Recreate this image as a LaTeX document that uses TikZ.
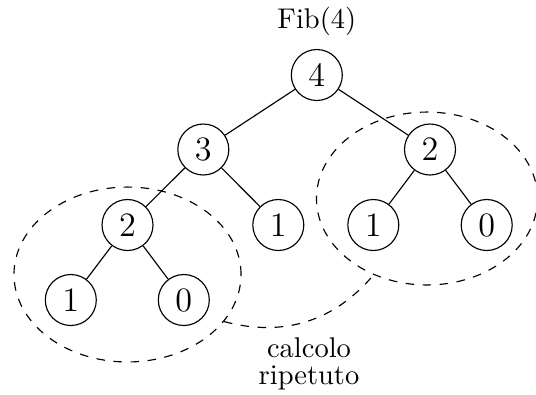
\documentclass[tikz,border=0pt]{standalone}
\usetikzlibrary{shapes.geometric}
\begin{document}
\begin{tikzpicture}[x=0.351pt,y=-0.351pt,
  fibnode/.style={circle,draw,minimum size=17.9pt,inner sep=0pt,font=\large},
  group/.style={ellipse,draw,dashed,inner sep=0pt},
  link/.style={draw}]
  \useasboundingbox (0,0) rectangle (536,394);

  % recursion tree of Fib(4)
  \node[fibnode] (n4)  at (316.8,75)  {4};
  \node[fibnode] (n3)  at (203.3,149.5) {3};
  \node[fibnode] (n2r) at (430,149.5) {2};
  \node[fibnode] (n2l) at (127.5,225) {2};
  \node[fibnode] (n1m) at (278.3,225) {1};
  \node[fibnode] (n1r) at (373.3,225) {1};
  \node[fibnode] (n0r) at (486.7,225) {0};
  \node[fibnode] (n1l) at (70.8,300)  {1};
  \node[fibnode] (n0l) at (183.8,300) {0};

  \node (title) at (316.8,21) {Fib(4)};

  \draw[link] (n4) -- (n3);
  \draw[link] (n4) -- (n2r);
  \draw[link] (n3) -- (n2l);
  \draw[link] (n3) -- (n1m);
  \draw[link] (n2r) -- (n1r);
  \draw[link] (n2r) -- (n0r);
  \draw[link] (n2l) -- (n1l);
  \draw[link] (n2l) -- (n0l);

  % repeated sub-computations
  \node[group,minimum width=79.7pt,minimum height=61.4pt] (gl) at (127.5,274.5) {};
  \node[group,minimum width=77.6pt,minimum height=60.7pt] (gr) at (427,198.5) {};
  \draw[dashed] (gl.-26) to[out=-15,in=-130] (gr.-125);

  \node[align=center] (note) at (309,364) {calcolo\\[-2.3pt]ripetuto};
\end{tikzpicture}
\end{document}
